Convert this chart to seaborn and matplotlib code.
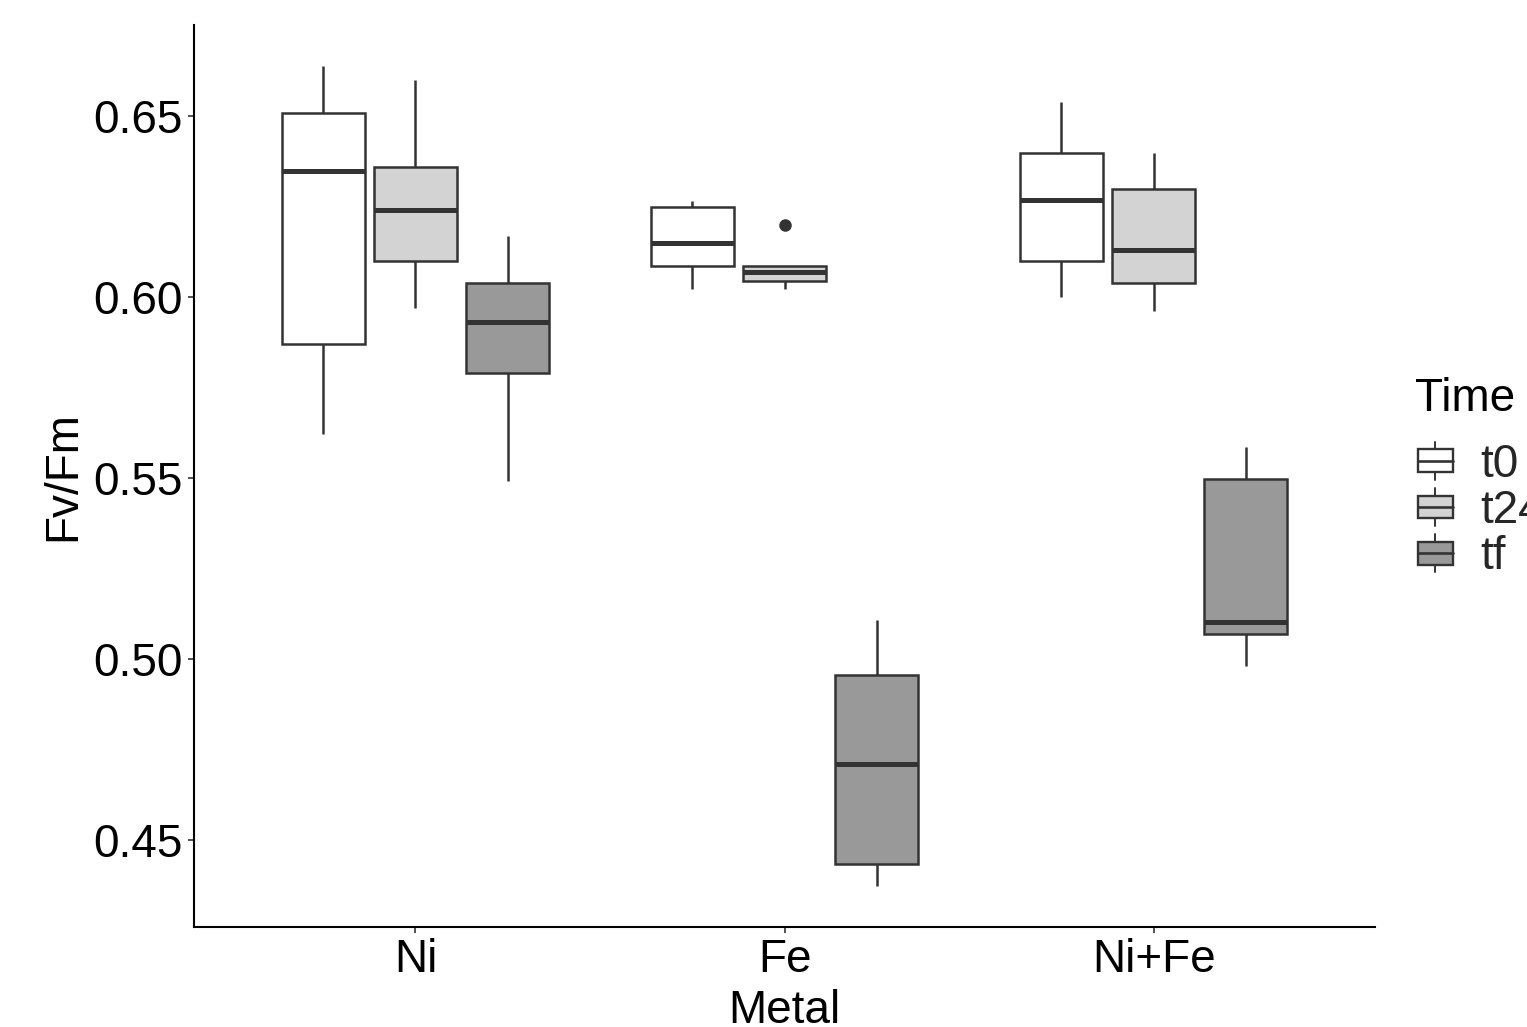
import numpy as np
import pandas as pd
import matplotlib
matplotlib.use("Agg")
import matplotlib.pyplot as plt
import seaborn as sns
from matplotlib.legend_handler import HandlerBase
from matplotlib.patches import Rectangle, Patch
from matplotlib.lines import Line2D

# ---- data (5 points per group -> min, Q1, median, Q3, max) ----
metals = ["Ni", "Fe", "Ni+Fe"]
times = ["t0", "t24", "tf"]

ni_t0 = [0.5622, 0.5870, 0.6348, 0.6508, 0.6638]
ni_t24 = [0.5970, 0.6100, 0.6240, 0.6359, 0.6599]
ni_tf = [0.5492, 0.5790, 0.5931, 0.6039, 0.6168]

fe_t0 = [0.6022, 0.6086, 0.6149, 0.6249, 0.6265]
fe_t24 = [0.6022, 0.6044, 0.6069, 0.6086, 0.6199]
fe_tf = [0.4373, 0.4434, 0.4710, 0.4956, 0.5108]

nife_t0 = [0.6000, 0.6100, 0.6268, 0.6398, 0.6539]
nife_t24 = [0.5961, 0.6039, 0.6130, 0.6298, 0.6398]
nife_tf = [0.4981, 0.5069, 0.5102, 0.5497, 0.5586]

groups = {
    ("Ni", "t0"): ni_t0, ("Ni", "t24"): ni_t24, ("Ni", "tf"): ni_tf,
    ("Fe", "t0"): fe_t0, ("Fe", "t24"): fe_t24, ("Fe", "tf"): fe_tf,
    ("Ni+Fe", "t0"): nife_t0, ("Ni+Fe", "t24"): nife_t24, ("Ni+Fe", "tf"): nife_tf,
}
rows = []
for (m, t), vals in groups.items():
    for v in vals:
        rows.append({"Metal": m, "Time": t, "FvFm": v})
df = pd.DataFrame(rows)

fill_colors = {"t0": "#FFFFFF", "t24": "#D3D3D3", "tf": "#999999"}
edge = "#333333"

sns.set_theme(style="white")
plt.rcParams["font.family"] = ["Liberation Sans", "DejaVu Sans"]

FS = 33

fig = plt.figure(figsize=(15.27, 10.27), dpi=100)
ax = fig.add_axes([194 / 1527, 1 - 927 / 1027, (1375 - 194) / 1527, (927 - 25) / 1027])

lw = 1.8
sns.boxplot(
    data=df, x="Metal", y="FvFm", hue="Time",
    order=metals, hue_order=times, palette=fill_colors,
    width=0.75, gap=0.1, saturation=1, linecolor=edge, linewidth=lw,
    showcaps=False, whis=1.5,
    medianprops=dict(linewidth=lw * 2, color=edge),
    whiskerprops=dict(linewidth=lw, color=edge),
    flierprops=dict(marker="o", markerfacecolor=edge, markeredgecolor=edge, markersize=8),
    legend=False, ax=ax,
)

ax.set_xlim(-0.6, 2.6)
ax.set_ylim(0.426, 0.6751)
ax.set_yticks([0.45, 0.50, 0.55, 0.60, 0.65])
ax.set_yticklabels(["0.45", "0.50", "0.55", "0.60", "0.65"])

for s in ["top", "right"]:
    ax.spines[s].set_visible(False)
for s in ["left", "bottom"]:
    ax.spines[s].set_color("black")
    ax.spines[s].set_linewidth(1.5)

ax.tick_params(axis="both", which="major", length=4, width=1.2, color=edge,
               labelsize=FS, labelcolor="black", pad=4, left=True, bottom=True)
ax.set_xlabel("Metal", fontsize=FS, color="black", labelpad=5)
ax.set_ylabel("Fv/Fm", fontsize=FS, color="black", labelpad=6)


class BoxHandler(HandlerBase):
    def create_artists(self, legend, orig_handle, xdescent, ydescent, width, height, fontsize, trans):
        fc = orig_handle.get_facecolor()
        x0, y0 = -xdescent, -ydescent
        cx = x0 + width / 2
        bw = width * 0.9
        bx = cx - bw / 2
        bh = height * 0.68
        by = y0 + (height - bh) / 2
        rect = Rectangle((bx, by), bw, bh, facecolor=fc, edgecolor=edge, linewidth=1.7, transform=trans)
        med = Line2D([bx, bx + bw], [y0 + height / 2] * 2, color=edge, linewidth=1.9, transform=trans)
        w1 = Line2D([cx, cx], [y0 - height * 0.07, by], color=edge, linewidth=1.4, transform=trans)
        w2 = Line2D([cx, cx], [by + bh, y0 + height * 1.07], color=edge, linewidth=1.4, transform=trans)
        return [w1, w2, rect, med]


fig.text(1415 / 1527, 1 - 399 / 1027, "Time", fontsize=FS, color="black", ha="left", va="center")

handles = [Patch(facecolor=fill_colors[t], edgecolor=edge) for t in times]
leg = fig.legend(
    handles, times, loc="center left",
    bbox_to_anchor=(1416 / 1527, 1 - 511 / 1027),
    frameon=False, fontsize=FS,
    handler_map={Patch: BoxHandler()},
    handlelength=0.85, handleheight=0.75, handletextpad=0.55,
    labelspacing=0.05, borderaxespad=0, borderpad=0,
)

fig.savefig("out.png", dpi=100)
